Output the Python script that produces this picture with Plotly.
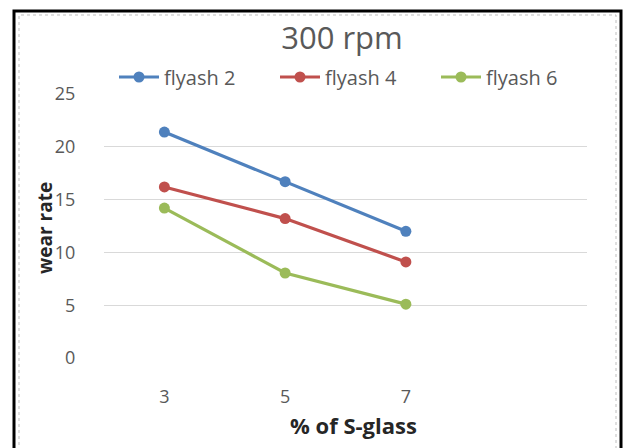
import plotly.graph_objects as go

categories = ["3", "5", "7"]
series_names = ["flyash 2", "flyash 4", "flyash 6"]
flyash2 = [21.4, 16.7, 12.0]
flyash4 = [16.2, 13.2, 9.1]
flyash6 = [14.2, 8.05, 5.1]
colors = ["#4F81BD", "#C0504D", "#9BBB59"]
y_ticks = [0, 5, 10, 15, 20, 25]

W, H = 624, 448
L, R, T, B = 104, 37, 94, 90

fig = go.Figure()
for name, vals, c in zip(series_names, [flyash2, flyash4, flyash6], colors):
    fig.add_trace(go.Scatter(
        x=categories, y=vals, name=name, mode="lines+markers",
        line=dict(color=c, width=3.2),
        marker=dict(color=c, size=11),
    ))

pw = W - L - R
ph = H - T - B


def px_x(p):
    return (p - L) / pw


def px_y(p):
    return (H - B - p) / ph


fig.update_layout(
    width=W, height=H,
    margin=dict(l=L, r=R, t=T, b=B),
    paper_bgcolor="white", plot_bgcolor="white",
    font=dict(family="Open Sans", color="#595959"),
    title=dict(text="300 rpm", x=342 / W, xanchor="center",
               y=1 - 38 / H, yanchor="middle", yref="container",
               font=dict(size=31, color="#595959")),
    showlegend=True,
    legend=dict(orientation="h", x=px_x(114), xanchor="left",
                y=px_y(77), yanchor="middle",
                font=dict(size=20, color="#595959"),
                itemwidth=40, entrywidth=106, entrywidthmode="pixels",
                bgcolor="rgba(0,0,0,0)"),
    xaxis=dict(type="category", range=[-0.5, 3.5], showgrid=False,
               showline=False, zeroline=False,
               ticks="outside", ticklen=22, tickcolor="rgba(0,0,0,0)",
               tickfont=dict(size=18, color="#595959")),
    yaxis=dict(range=[0, 25], tickvals=y_ticks, showgrid=True,
               gridcolor="#D9D9D9", gridwidth=1, zeroline=False,
               showline=False, ticks="outside", ticklen=24,
               tickcolor="rgba(0,0,0,0)",
               tickfont=dict(size=18, color="#595959")),
    annotations=[
        dict(text="<b>% of S-glass</b>", xref="paper", yref="paper",
             x=px_x(353), y=px_y(425), xanchor="center", yanchor="middle",
             showarrow=False, font=dict(size=22, color="#262626")),
        dict(text="<b>wear rate</b>", xref="paper", yref="paper",
             x=px_x(45), y=px_y(228), xanchor="center", yanchor="middle",
             textangle=-90, showarrow=False,
             font=dict(size=19, color="#262626")),
    ],
    shapes=[
        dict(type="rect", xref="paper", yref="paper",
             x0=px_x(19), x1=px_x(616), y0=px_y(470), y1=px_y(15),
             line=dict(color="#BFBFBF", width=1, dash="dot")),
        dict(type="rect", xref="paper", yref="paper",
             x0=px_x(14), x1=px_x(621), y0=px_y(470), y1=px_y(11),
             line=dict(color="black", width=3)),
    ],
)

fig.write_html("out.html")
